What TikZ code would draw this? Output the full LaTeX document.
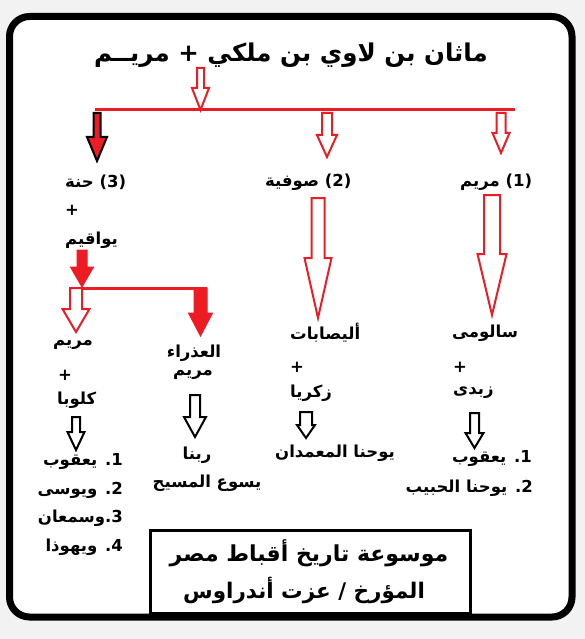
\documentclass[tikz,border=0pt]{standalone}
\usepackage{fontspec}
\usepackage{xcolor}
\usepackage{tikz}
\TeXXeTstate=1
\newfontfamily\arabicfont[Script=Arabic]{DejaVu Sans}
\definecolor{paintred}{HTML}{ED1C24}
\definecolor{pagegray}{HTML}{F2F2F2}
\newcommand{\artxt}[1]{\beginR #1\endR}
% block arrow: [style]{x}{top}{neck}{tip}{half shaft}{half head}
\newcommand{\blkarrow}[7][]{%
  \draw[#1] (#2-#6,#3) -- (#2+#6,#3) -- (#2+#6,#4) -- (#2+#7,#4)
    -- (#2,#5) -- (#2-#7,#4) -- (#2-#6,#4) -- cycle;}
\tikzset{
  lbl/.style={font=\arabicfont\bfseries\fontsize{16.5}{19}\selectfont, inner sep=0pt},
  hollowred/.style={draw=paintred, line width=2pt, fill=white},
  fullred/.style={draw=paintred, line width=1pt, fill=paintred},
  redblack/.style={draw=black, line width=2pt, fill=paintred},
  blackhollow/.style={draw=black, line width=2pt, fill=white},
  redline/.style={paintred, line width=3pt},
}
\begin{document}
\begin{tikzpicture}[x=1pt, y=-1pt, line join=miter]
        \useasboundingbox (0,0) rectangle (585,639);
        \fill[pagegray] (0,0) rectangle (585,639);
        \draw[line width=7pt, rounded corners=20pt, fill=white] (9.5,16.5) rectangle (572,617);
%
        \node[lbl, font=\arabicfont\bfseries\fontsize{24.5}{28}\selectfont] (title) at (291,55)
            {\artxt{ماثان بن لاوي بن ملكي + مريــم}};
        \blkarrow[hollowred]{200.5}{68}{88}{110}{3.5}{8.5}
        \coordinate (barL) at (95,110);
        \coordinate (barR) at (515,110);
        \draw[redline] (barL) -- (barR);
%
        \blkarrow[redblack]{97}{113}{137}{161}{3.5}{10}
        \blkarrow[hollowred]{327}{113}{135}{157}{5}{10}
        \blkarrow[hollowred]{501}{113}{133}{153}{4.5}{8.5}
%
        \node[lbl, anchor=west] (hanna) at (65,182) {\artxt{(3) حنة}};
        \node[lbl, anchor=west] (plusA) at (65,210) {+};
        \node[lbl, anchor=west] (yoaqim) at (65,240) {\artxt{يواقيم}};
        \node[lbl, anchor=west] (sofia) at (265,182) {\artxt{(2) صوفية}};
        \node[lbl, anchor=west] (mariamA) at (460,182) {\artxt{(1) مريم}};
%
        \blkarrow[hollowred]{318}{198}{258}{318}{6.5}{13.5}
        \blkarrow[hollowred]{492}{195}{254}{315}{8}{14.5}
%
        \blkarrow[fullred]{82}{250}{267}{287}{5}{11.5}
        \coordinate (subL) at (69,288);
        \coordinate (subR) at (207,288);
        \draw[redline] (subL) -- (subR);
        \blkarrow[hollowred]{76}{288}{309}{332}{6}{13.5}
        \blkarrow[fullred]{200.5}{288}{313}{336}{6.5}{12}
%
        \node[lbl, anchor=west] (mariamB) at (53,345) {\artxt{مريم}};
        \node[lbl, anchor=west] (plusB) at (58,375) {+};
        \node[lbl, anchor=west] (klopa) at (57,400) {\artxt{كلوبا}};
        \blkarrow[blackhollow]{76}{417}{432}{450}{4}{8.5}
        \node[lbl, anchor=east] (sonA) at (123,461) {\artxt{1. يعقوب}};
        \node[lbl, anchor=east] (sonB) at (123,490) {\artxt{2. ويوسى}};
        \node[lbl, anchor=east] (sonC) at (123,518) {\artxt{3.\kern0pt وسمعان}};
        \node[lbl, anchor=east] (sonD) at (123,547) {\artxt{4. ويهوذا}};
%
        \node[lbl] (athraa) at (194,353) {\artxt{العذراء}};
        \node[lbl] (mariamC) at (193,375) {\artxt{مريم}};
        \blkarrow[blackhollow]{195}{395}{417}{437}{5}{11}
        \node[lbl] (rabbana) at (197,455) {\artxt{ربنا}};
        \node[lbl] (yasoo) at (207,483) {\artxt{يسوع المسيح}};
%
        \node[lbl, anchor=west] (elisabat) at (290,333) {\artxt{أليصابات}};
        \node[lbl, anchor=west] (plusC) at (290,367) {+};
        \node[lbl, anchor=west] (zakaria) at (290,393) {\artxt{زكريا}};
        \blkarrow[blackhollow]{306}{412}{425}{438}{6}{9}
        \node[lbl] (yohanna) at (335,453) {\artxt{يوحنا المعمدان}};
%
        \node[lbl, anchor=west] (salome) at (452,333) {\artxt{سالومى}};
        \node[lbl, anchor=west] (plusD) at (453,367) {+};
        \node[lbl, anchor=west] (zebedee) at (453,393) {\artxt{زبدى}};
        \blkarrow[blackhollow]{474.5}{413}{433}{448}{4.5}{9}
        \node[lbl, anchor=east] (sonE) at (532,458) {\artxt{1. يعقوب}};
        \node[lbl, anchor=east] (sonF) at (533,488) {\artxt{2. يوحنا الحبيب}};
%
        \draw[line width=3pt] (150,530) rectangle (470,613);
        \node[lbl, font=\arabicfont\bfseries\fontsize{22}{25}\selectfont] (book) at (309,553)
            {\artxt{موسوعة تاريخ أقباط مصر}};
        \node[lbl, font=\arabicfont\bfseries\fontsize{21.5}{25}\selectfont] (author) at (304,590)
            {\artxt{المؤرخ / عزت أندراوس}};
\end{tikzpicture}
\end{document}
